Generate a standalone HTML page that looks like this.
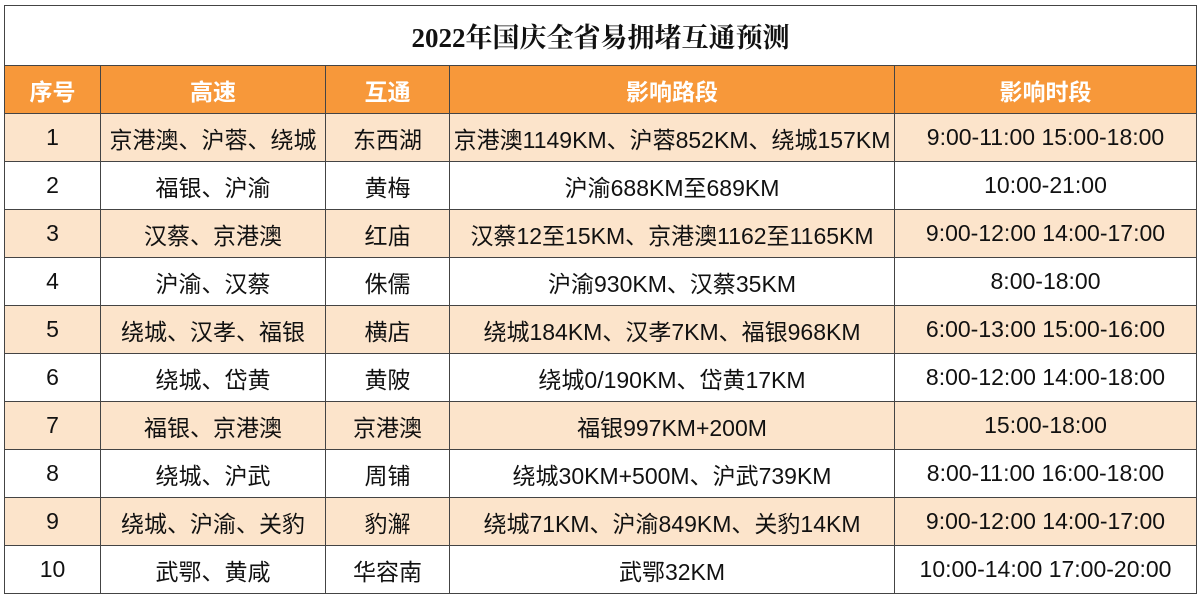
<!DOCTYPE html>
<html><head><meta charset="utf-8"><style>
body{margin:0;background:#fff;width:1200px;height:601px;overflow:hidden}
table{position:absolute;left:4px;top:5px;border-collapse:collapse;width:1192px;table-layout:fixed;font-family:"Liberation Sans","Noto Sans CJK SC",sans-serif;font-size:23px;color:#111}
td{border:1.5px solid #444;text-align:center;padding:0;height:47px;white-space:nowrap}
.t td{height:59px;font-family:"Liberation Serif","Noto Serif CJK SC",serif;font-weight:bold;font-size:27px;color:#111}
.h td{background:#f7983a;color:#fff;font-weight:bold;font-size:23px;height:47px}
.o td{background:#fce4cb}
</style></head><body>
<table>
<colgroup><col style="width:96px"><col style="width:225px"><col style="width:124px"><col style="width:445px"><col style="width:302px"></colgroup>
<tr class="t"><td colspan="5">2022年国庆全省易拥堵互通预测</td></tr>
<tr class="h"><td>序号</td><td>高速</td><td>互通</td><td>影响路段</td><td>影响时段</td></tr>
<tr class="o"><td>1</td><td>京港澳、沪蓉、绕城</td><td>东西湖</td><td>京港澳1149KM、沪蓉852KM、绕城157KM</td><td>9:00-11:00 15:00-18:00</td></tr>
<tr><td>2</td><td>福银、沪渝</td><td>黄梅</td><td>沪渝688KM至689KM</td><td>10:00-21:00</td></tr>
<tr class="o"><td>3</td><td>汉蔡、京港澳</td><td>红庙</td><td>汉蔡12至15KM、京港澳1162至1165KM</td><td>9:00-12:00 14:00-17:00</td></tr>
<tr><td>4</td><td>沪渝、汉蔡</td><td>侏儒</td><td>沪渝930KM、汉蔡35KM</td><td>8:00-18:00</td></tr>
<tr class="o"><td>5</td><td>绕城、汉孝、福银</td><td>横店</td><td>绕城184KM、汉孝7KM、福银968KM</td><td>6:00-13:00 15:00-16:00</td></tr>
<tr><td>6</td><td>绕城、岱黄</td><td>黄陂</td><td>绕城0/190KM、岱黄17KM</td><td>8:00-12:00 14:00-18:00</td></tr>
<tr class="o"><td>7</td><td>福银、京港澳</td><td>京港澳</td><td>福银997KM+200M</td><td>15:00-18:00</td></tr>
<tr><td>8</td><td>绕城、沪武</td><td>周铺</td><td>绕城30KM+500M、沪武739KM</td><td>8:00-11:00 16:00-18:00</td></tr>
<tr class="o"><td>9</td><td>绕城、沪渝、关豹</td><td>豹澥</td><td>绕城71KM、沪渝849KM、关豹14KM</td><td>9:00-12:00 14:00-17:00</td></tr>
<tr><td>10</td><td>武鄂、黄咸</td><td>华容南</td><td>武鄂32KM</td><td>10:00-14:00 17:00-20:00</td></tr>
</table>
</body></html>
